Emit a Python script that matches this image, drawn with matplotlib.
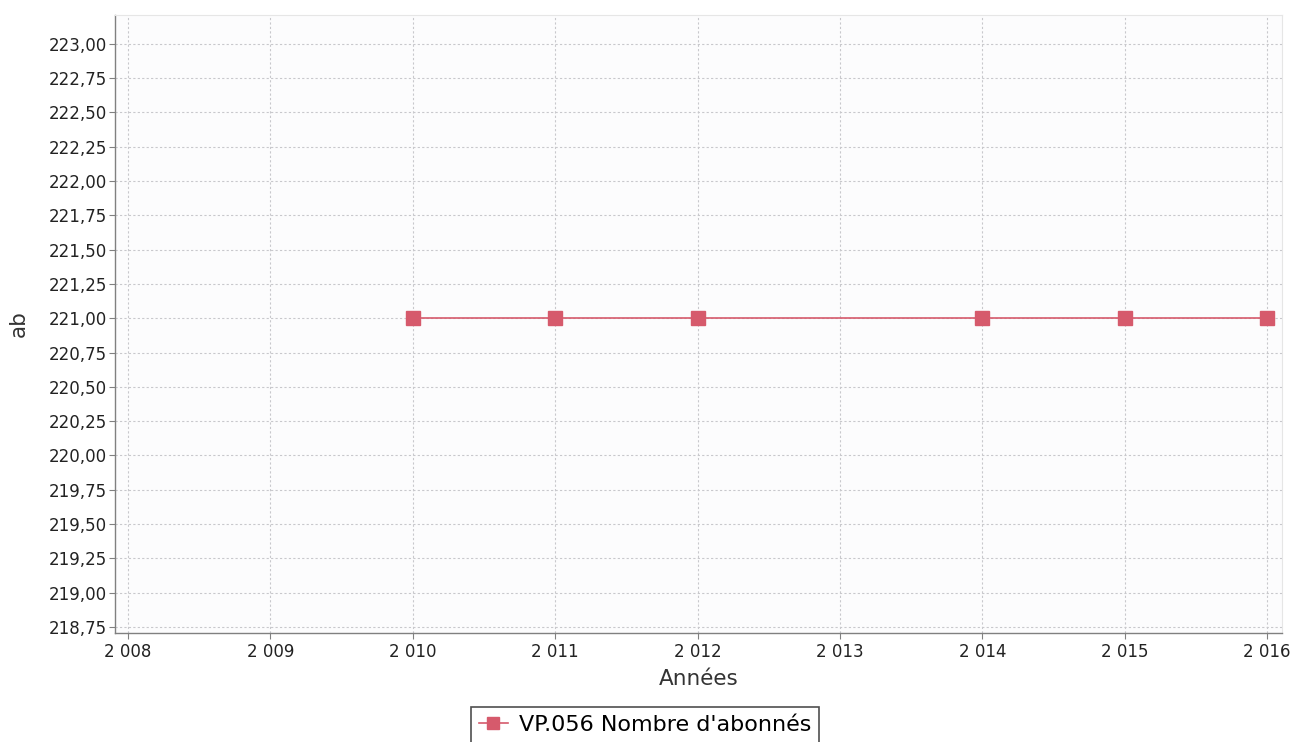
import matplotlib
matplotlib.use("Agg")
import matplotlib.pyplot as plt
from matplotlib.ticker import FuncFormatter, MultipleLocator

plt.rcParams['font.family'] = ['DejaVu Sans']

years = [2010, 2011, 2012, 2014, 2015, 2016]
values = [221.0, 221.0, 221.0, 221.0, 221.0, 221.0]
series_label = "VP.056 Nombre d'abonnés"
x_label = "Années"
y_label = "ab"

fig = plt.figure(figsize=(12.98, 7.42), dpi=100)
ax = fig.add_axes([115/1298, 1 - 633/742, (1282-115)/1298, (633-15)/742])
ax.set_facecolor("#fcfcfd")

color = "#d65a6c"
ax.plot(years, values, color=color, linewidth=1.2, marker="s", markersize=10,
        markerfacecolor=color, markeredgecolor=color, label=series_label)

ax.set_xlim(2007.909, 2016.105)
ax.set_ylim(218.706, 223.21)
ax.xaxis.set_major_locator(MultipleLocator(1))
ax.yaxis.set_major_locator(MultipleLocator(0.25))
ax.xaxis.set_major_formatter(FuncFormatter(lambda v, p: f"{int(round(v)):,}".replace(",", " ")))
ax.yaxis.set_major_formatter(FuncFormatter(lambda v, p: f"{v:.2f}".replace(".", ",")))

ax.grid(True, color="#c8c8cc", linestyle=(0, (2, 2)), linewidth=0.8)
ax.set_axisbelow(True)
for s in ["top", "right"]:
    ax.spines[s].set_color("#e6e6e6")
    ax.spines[s].set_linewidth(0.8)
for s in ["left", "bottom"]:
    ax.spines[s].set_color("#808080")
    ax.spines[s].set_linewidth(1.0)
ax.tick_params(axis="both", labelsize=12, length=4, color="#808080", labelcolor="#222222")
ax.tick_params(axis="x", pad=3)
ax.tick_params(axis="y", pad=2)

ax.set_xlabel(x_label, fontsize=15.5, color="#333333", labelpad=6)
ax.set_ylabel(y_label, fontsize=15.5, color="#333333")
ax.yaxis.set_label_coords((29 - 115) / 1167, 0.5)

leg = fig.legend(loc="upper center", bbox_to_anchor=(645/1298, 1 - 707/742), fontsize=16,
                 frameon=True, fancybox=False, handlelength=1.3, handletextpad=0.5,
                 borderpad=0.35, borderaxespad=0, markerscale=0.8)
leg.get_frame().set_edgecolor("#222222")
leg.get_frame().set_linewidth(1.2)

fig.savefig("out.png", dpi=100)
